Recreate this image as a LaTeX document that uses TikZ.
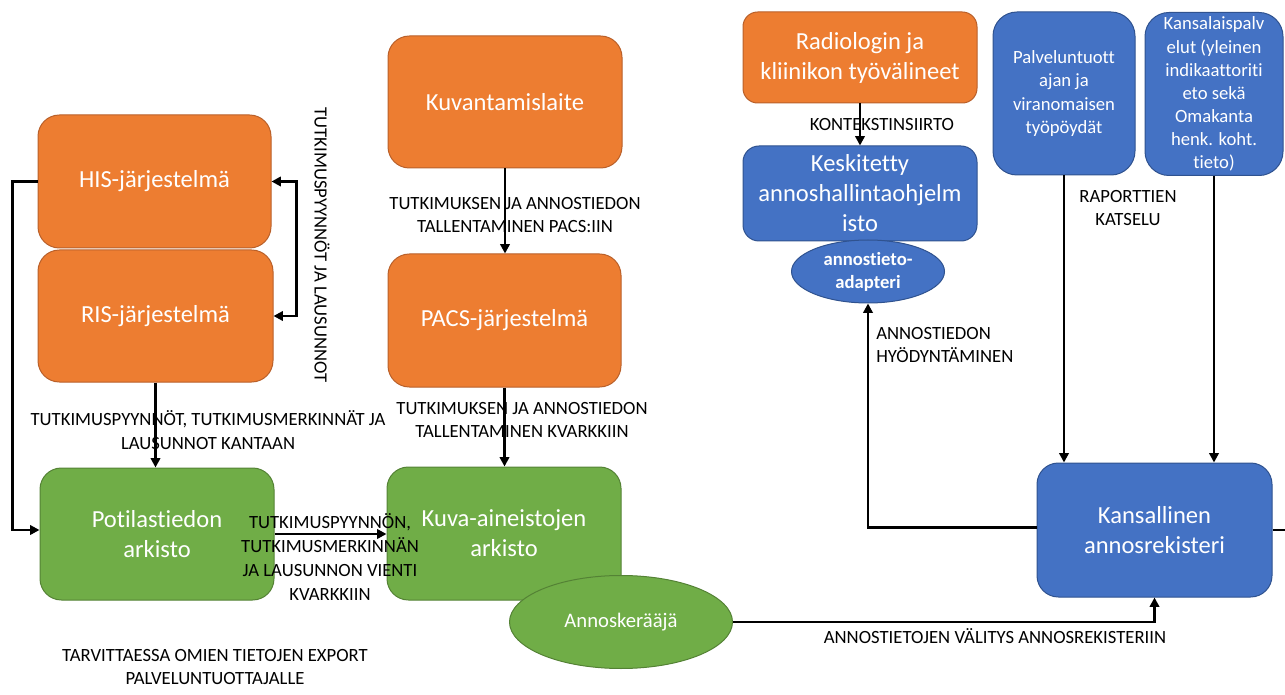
\documentclass[tikz,border=0pt]{standalone}
\usepackage{fontspec}
\setmainfont{Carlito}[Ligatures=NoCommon]
\usetikzlibrary{arrows.meta,shapes.geometric}
\definecolor{cOr}{HTML}{ED7D31}
\definecolor{cOrD}{HTML}{B9602A}
\definecolor{cGr}{HTML}{70AD47}
\definecolor{cGrD}{HTML}{548235}
\definecolor{cBl}{HTML}{4472C4}
\definecolor{cBlD}{HTML}{2F528F}
\tikzset{
  base/.style={rectangle, inner sep=0pt, text=white, align=center, line width=0.75pt,
    font=\fontsize{18.4}{22.5}\selectfont},
  sz/.style 2 args={minimum width={#1*0.75pt}, minimum height={#2*0.75pt}},
  obox/.style={base, fill=cOr, draw=cOrD},
  gbox/.style={base, fill=cGr, draw=cGrD},
  bbox/.style={base, fill=cBl, draw=cBlD},
  midtxt/.style={font=\fontsize{14}{17.3}\selectfont},
  lab/.style={inner sep=0pt, align=center, text=black, font=\fontsize{14}{17.8}\selectfont},
  arr/.style={line width=1.9pt, -{Triangle[length=7pt,width=7pt]}},
  arr2/.style={line width=1.9pt, {Triangle[length=7pt,width=7pt]}-{Triangle[length=7pt,width=7pt]}},
  plain/.style={line width=1.9pt}
}
\begin{document}
\begin{tikzpicture}[x=0.75pt,y=-0.75pt]
\useasboundingbox (0,0) rectangle (1285,695);
% left column
\node[obox, sz={233}{133}, rounded corners=16pt] (his) at (154.5,181.5) {HIS-järjestelmä};
\node[obox, sz={235}{132}, rounded corners=16pt] (ris) at (155.5,316) {RIS-järjestelmä};
\node[gbox, sz={234}{132}, rounded corners=16pt] (pot) at (157,534) {Potilastiedon\\arkisto};
% middle column
\node[obox, sz={234}{132}, rounded corners=16pt] (kuv) at (505,102) {Kuvantamislaite};
\node[obox, sz={233}{133}, rounded corners=16pt] (pacs) at (504.5,320.5) {PACS-järjestelmä};
\node[gbox, sz={234}{133}, rounded corners=16pt] (arch) at (504,533.5) {Kuva-aineistojen\\arkisto};
\node[ellipse, fill=cGr, draw=cGrD, line width=0.75pt, inner sep=0pt, sz={223}{93}, text=white,
  font=\fontsize{15.5}{18}\selectfont] (annk) at (621,622) {Annoskerääjä};
% right part
\node[obox, sz={234}{91}, rounded corners=11pt] (rad) at (860,57.5) {Radiologin ja\\kliinikon työvälineet};
\node[bbox, sz={234}{95}, rounded corners=12pt] (kesk) at (860,193.5) {Keskitetty\\annoshallintaohjelm\\isto};
\node[ellipse, fill=cBl, draw=cBlD, line width=0.75pt, inner sep=0pt, sz={153}{63}, text=white, align=center,
  font=\fontsize{14}{17.3}\selectfont\bfseries] (adap) at (868,271.5) {annostieto-\\adapteri};
\node[bbox, midtxt, sz={142}{163}, rounded corners=18pt] (palv) at (1064,93.5) {Palveluntuott\\ajan ja\\viranomaisen\\työpöydät};
\node[bbox, midtxt, sz={138}{163}, rounded corners=18pt] (kans) at (1214,94) {Kansalaispalv\\elut (yleinen\\indikaattoriti\\eto sekä\\Omakanta\\henk. koht.\\tieto)};
\node[bbox, sz={235}{134}, rounded corners=16pt] (nat) at (1154.5,530) {Kansallinen\\annosrekisteri};
% connectors
\draw[arr] (his.west) -- ++(-25,0) |- ([yshift=3pt]pot.west);
\draw[arr2] (his.east) -- ++(25,0) |- (ris.east);
\draw[arr] (ris.south) -- (ris.south |- pot.north);
\draw[arr] (pot.east) -- (pot.east -| arch.west);
\draw[arr] (kuv.south) -- (kuv.south |- pacs.north);
\draw[arr] (pacs.south) -- (pacs.south |- arch.north);
\draw[arr] (annk.east) -| (nat.south);
\draw[arr] (rad.south) -- (kesk.north);
\draw[arr] (palv.south) -- (palv.south |- nat.north);
\draw[arr] (kans.south) -- (kans.south |- nat.north);
\draw[arr] ([yshift=2pt]nat.west) -| (adap.south);
\coordinate (edge) at (1285,530);
\draw[plain] (nat.east) -- (edge);
% labels
\node[lab, rotate=-90] (l1) at (322,245) {TUTKIMUSPYYNNÖT JA LAUSUNNOT};
\node[lab] (l2) at (208,430) {TUTKIMUSPYYNNÖT, TUTKIMUSMERKINNÄT JA\\LAUSUNNOT KANTAAN};
\node[lab] (l3) at (330,557) {TUTKIMUSPYYNNÖN,\\TUTKIMUSMERKINNÄN\\JA LAUSUNNON VIENTI\\KVARKKIIN};
\node[lab] (l4) at (515,215) {TUTKIMUKSEN JA ANNOSTIEDON\\TALLENTAMINEN PACS:IIN};
\node[lab] (l5) at (522,420) {TUTKIMUKSEN JA ANNOSTIEDON\\TALLENTAMINEN KVARKKIIN};
\node[lab] (l6) at (215,667) {TARVITTAESSA OMIEN TIETOJEN EXPORT\\PALVELUNTUOTTAJALLE};
\node[lab] (l7) at (995,636) {ANNOSTIETOJEN VÄLITYS ANNOSREKISTERIIN};
\node[lab] (l8) at (882,125) {KONTEKSTINSIIRTO};
\node[lab] (l9) at (1128,208) {RAPORTTIEN\\KATSELU};
\node[lab, align=left, anchor=west] (l10) at (876,345) {ANNOSTIEDON\\HYÖDYNTÄMINEN};
\end{tikzpicture}
\end{document}
